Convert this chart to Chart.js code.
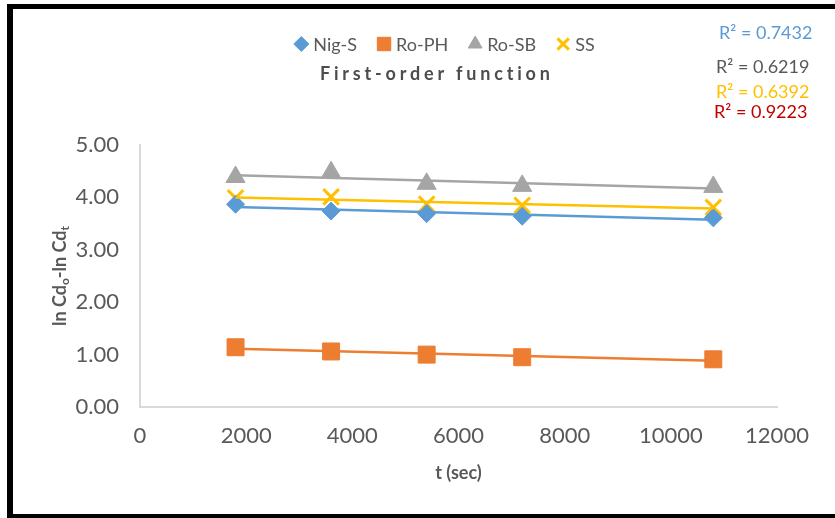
<!DOCTYPE html>
<html>
<head>
<meta charset="utf-8">
<title>First-order function</title>
<script src="https://cdn.jsdelivr.net/npm/chart.js@4.4.0/dist/chart.umd.min.js"></script>
<style>
  html, body { margin: 0; padding: 0; background: #fff; }
  #wrap { position: relative; width: 835px; height: 518px; overflow: hidden; }
  #frame {
    position: absolute; left: 7px; top: 4px; width: 900px; height: 514px;
    box-sizing: border-box;
    border-left: 6px solid #000; border-top: 5px solid #000; border-bottom: 4px solid #000;
  }
  canvas { position: absolute; left: 0; top: 0; }
</style>
</head>
<body>
<div id="wrap">
  <div id="frame"></div>
  <canvas id="chart" width="835" height="518"></canvas>
</div>
<script>
// data
const timeSec = [1800, 3600, 5400, 7200, 10800];
const nigS = [3.87, 3.74, 3.69, 3.64, 3.61];
const roPH = [1.14, 1.06, 1.00, 0.95, 0.91];
const roSB = [4.39, 4.48, 4.26, 4.22, 4.20];
const ss = [3.99, 4.01, 3.87, 3.85, 3.81];

const seriesNames = ['Nig-S', 'Ro-PH', 'Ro-SB', 'SS'];
const seriesColors = ['#5b9bd5', '#ed7d31', '#a5a5a5', '#ffc000'];
const rSquaredLabels = ['R² = 0.7432', 'R² = 0.6219', 'R² = 0.6392', 'R² = 0.9223'];
const rSquaredColors = ['#5b9bd5', '#595959', '#ffc000', '#c00000'];

const xTickMin = 0, xTickMax = 12000, xTickStep = 2000;
const yTickMin = 0, yTickMax = 5, yTickStep = 1;

const FONT = 'Lato';
const TEXT = '#595959';

function toPoints(ys) {
  return timeSec.map((t, i) => ({ x: t, y: ys[i] }));
}

// least squares trend line, from first to last time
function trend(ys) {
  const n = ys.length;
  const mx = timeSec.reduce((a, b) => a + b, 0) / n;
  const my = ys.reduce((a, b) => a + b, 0) / n;
  let sxy = 0, sxx = 0;
  timeSec.forEach((t, i) => { sxy += (t - mx) * (ys[i] - my); sxx += (t - mx) * (t - mx); });
  const b = sxy / sxx, a = my - b * mx;
  const x0 = Math.min(...timeSec), x1 = Math.max(...timeSec);
  return [{ x: x0, y: a + b * x0 }, { x: x1, y: a + b * x1 }];
}

const allSeries = [nigS, roPH, roSB, ss];
const markerStyles = [
  { pointStyle: 'rectRot', radius: 9, borderWidth: 1 },
  { pointStyle: 'rect', radius: 12, borderWidth: 1 },
  { pointStyle: 'triangle', radius: 11, borderWidth: 1 },
  { pointStyle: 'crossRot', radius: 11, borderWidth: 3 }
];

const pointSets = allSeries.map((ys, i) => ({
  label: seriesNames[i],
  data: toPoints(ys),
  showLine: false,
  pointStyle: markerStyles[i].pointStyle,
  pointRadius: markerStyles[i].radius,
  pointBorderWidth: markerStyles[i].borderWidth,
  backgroundColor: seriesColors[i],
  borderColor: seriesColors[i],
  order: 1
}));

const trendSets = allSeries.map((ys, i) => ({
  label: seriesNames[i] + ' trend',
  data: trend(ys),
  showLine: true,
  pointRadius: 0,
  borderWidth: 2.5,
  borderColor: seriesColors[i],
  backgroundColor: seriesColors[i],
  order: 0
}));

const drawMarker = (ctx, style, x, y, r, color) => {
  ctx.save();
  ctx.fillStyle = color;
  ctx.strokeStyle = color;
  ctx.lineWidth = style.pointStyle === 'crossRot' ? 3 : 1;
  Chart.helpers.drawPoint(ctx, { pointStyle: style.pointStyle, radius: r, rotation: 0, borderWidth: ctx.lineWidth }, x, y);
  ctx.restore();
};

const annotations = {
  id: 'annotations',
  afterDraw(chart) {
    const ctx = chart.ctx;
    const area = chart.chartArea;
    ctx.save();

    // legend
    ctx.font = '18px ' + FONT;
    ctx.textBaseline = 'middle';
    ctx.textAlign = 'left';
    const legendR = [7.5, 9.5, 8, 8];
    const widths = seriesNames.map(n => ctx.measureText(n).width);
    const total = widths.reduce((a, b) => a + b, 0) + seriesNames.length * 20 + (seriesNames.length - 1) * 27;
    let lx = 456 - total / 2 + 8;
    const ly = 44;
    seriesNames.forEach((name, i) => {
      drawMarker(ctx, markerStyles[i], lx, ly, legendR[i], seriesColors[i]);
      ctx.fillStyle = TEXT;
      ctx.fillText(name, lx + 12, ly + 1);
      lx += 12 + widths[i] + 27;
    });

    // chart title
    ctx.font = 'bold 18px ' + FONT;
    ctx.letterSpacing = '3.8px';
    ctx.fillStyle = '#4d4d4d';
    ctx.fillText('First-order function', 320, 74);
    ctx.letterSpacing = '0px';

    // R² labels
    ctx.font = '18px ' + FONT;
    const rY = [33, 67, 92, 112];
    const rX = [719, 716, 716, 714];
    rSquaredLabels.forEach((s, i) => {
      ctx.fillStyle = rSquaredColors[i];
      ctx.fillText(s, rX[i], rY[i]);
    });

    // x axis title
    ctx.font = 'bold 18px ' + FONT;
    ctx.textAlign = 'center';
    ctx.fillStyle = TEXT;
    ctx.fillText('t (sec)', (area.left + area.right) / 2, 473);

    // y axis title with subscripts
    const parts = [
      { t: 'ln Cd', sub: false }, { t: 'o', sub: true },
      { t: '-ln Cd', sub: false }, { t: 't', sub: true }
    ];
    const big = 'bold 18px ' + FONT, small = 'bold 12px ' + FONT;
    let len = 0;
    parts.forEach(p => { ctx.font = p.sub ? small : big; p.w = ctx.measureText(p.t).width; len += p.w; });
    ctx.translate(60, (area.top + area.bottom) / 2);
    ctx.rotate(-Math.PI / 2);
    ctx.textAlign = 'left';
    let px = -len / 2;
    parts.forEach(p => {
      ctx.font = p.sub ? small : big;
      ctx.fillText(p.t, px, p.sub ? 5 : 0);
      px += p.w;
    });
    ctx.restore();
  }
};

new Chart(document.getElementById('chart').getContext('2d'), {
  type: 'scatter',
  data: { datasets: [...pointSets, ...trendSets] },
  options: {
    responsive: false,
    animation: false,
    devicePixelRatio: 1,
    layout: { padding: { top: 145, right: 58, bottom: 0, left: 0 } },
    plugins: {
      legend: { display: false },
      tooltip: { enabled: false }
    },
    scales: {
      x: {
        type: 'linear',
        min: xTickMin,
        max: xTickMax,
        ticks: {
          stepSize: xTickStep,
          color: TEXT,
          font: { family: FONT, size: 22 },
          padding: 16,
          maxRotation: 0,
          callback: v => String(v)
        },
        grid: { display: false, drawTicks: false },
        border: { color: '#d9d9d9', width: 2 },
        afterFit: s => { s.height = 111; }
      },
      y: {
        min: yTickMin,
        max: yTickMax,
        ticks: {
          stepSize: yTickStep,
          color: TEXT,
          font: { family: FONT, size: 22 },
          padding: 21,
          callback: v => v.toFixed(2)
        },
        grid: { display: false, drawTicks: false },
        border: { color: '#d9d9d9', width: 2 },
        afterFit: s => { s.width = 140; }
      }
    }
  },
  plugins: [annotations]
});
</script>
</body>
</html>
